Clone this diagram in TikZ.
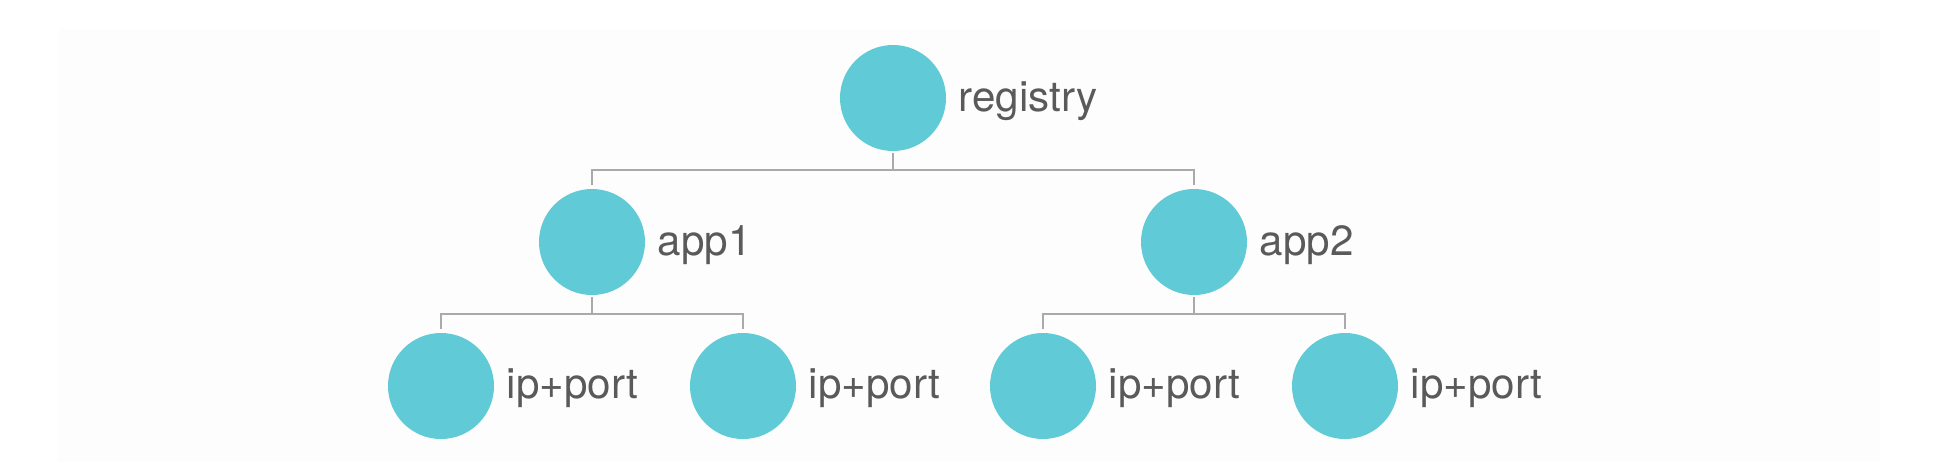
\documentclass[tikz,border=0pt]{standalone}
\usepackage{fontspec}
\setmainfont{TeX Gyre Heros}
\definecolor{nodecyan}{RGB}{96, 203, 214}
\definecolor{labelgray}{RGB}{90, 90, 90}
\definecolor{linkgray}{RGB}{170, 170, 170}
\definecolor{panelwhite}{RGB}{253, 253, 253}
\usetikzlibrary{positioning, calc}

\begin{document}
\begin{tikzpicture}[
    svc/.style={circle, fill=nodecyan, draw=none, inner sep=0pt, minimum size=2.12cm},
    lbl/.style={anchor=base west, inner sep=0pt, text=labelgray, font=\fontsize{24}{28}\selectfont},
    link/.style={draw=linkgray, line width=1.1pt, shorten <=0.04cm, shorten >=0.08cm}
  ]
  % canvas and faint panel
  \useasboundingbox (0, 0) rectangle (38.84, 9.4);
  \fill[panelwhite] (1.16, 0.16) rectangle (37.6, 8.82);

  % registry
  \node[svc] (reg) at (17.86, 7.44) {};
  \node[lbl] (regtxt) at ([xshift=0.24cm, yshift=-0.26cm]reg.east) {registry};

  % apps
  \node[svc] (app1) at (11.84, 4.56) {};
  \node[lbl] (app1txt) at ([xshift=0.24cm, yshift=-0.26cm]app1.east) {app1};
  \node[svc] (app2) at (23.88, 4.56) {};
  \node[lbl] (app2txt) at ([xshift=0.24cm, yshift=-0.26cm]app2.east) {app2};

  % instances
  \node[svc] (ip1) at (8.82, 1.68) {};
  \node[lbl] (ip1txt) at ([xshift=0.24cm, yshift=-0.25cm]ip1.east) {ip+port};
  \node[svc] (ip2) at (14.86, 1.68) {};
  \node[lbl] (ip2txt) at ([xshift=0.24cm, yshift=-0.25cm]ip2.east) {ip+port};
  \node[svc] (ip3) at (20.86, 1.68) {};
  \node[lbl] (ip3txt) at ([xshift=0.24cm, yshift=-0.25cm]ip3.east) {ip+port};
  \node[svc] (ip4) at (26.90, 1.68) {};
  \node[lbl] (ip4txt) at ([xshift=0.24cm, yshift=-0.25cm]ip4.east) {ip+port};

  % tree links
  \draw[link] (reg.south) |- ($(reg.south)!0.5!(app1.north)$) -| (app1.north);
  \draw[link] (reg.south) |- ($(reg.south)!0.5!(app2.north)$) -| (app2.north);
  \draw[link] (app1.south) |- ($(app1.south)!0.5!(ip1.north)$) -| (ip1.north);
  \draw[link] (app1.south) |- ($(app1.south)!0.5!(ip2.north)$) -| (ip2.north);
  \draw[link] (app2.south) |- ($(app2.south)!0.5!(ip3.north)$) -| (ip3.north);
  \draw[link] (app2.south) |- ($(app2.south)!0.5!(ip4.north)$) -| (ip4.north);
\end{tikzpicture}
\end{document}
